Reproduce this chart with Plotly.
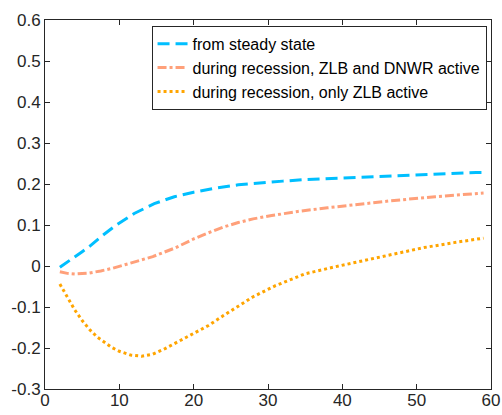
import plotly.graph_objects as go

# ---- data ----
blue_x = [2, 3, 4, 5, 6, 7.5, 9.5, 12, 14.7, 17.4, 20, 23, 26, 29, 32, 35, 37.5, 40.5, 46, 52, 58, 59]
blue_y = [-0.003, 0.009, 0.022, 0.035, 0.048, 0.071, 0.099, 0.128, 0.152, 0.169, 0.180, 0.190, 0.198,
          0.203, 0.207, 0.211, 0.213, 0.215, 0.220, 0.224, 0.228, 0.228]

salmon_x = [2, 3, 4, 5, 6, 7.5, 9, 11.5, 14.5, 17.5, 20, 22, 24, 26, 28, 30.5, 34, 38, 40.5, 46.5, 52.5, 59]
salmon_y = [-0.014, -0.018, -0.0195, -0.019, -0.017, -0.012, -0.006, 0.007, 0.023, 0.044, 0.066, 0.081,
            0.095, 0.106, 0.115, 0.123, 0.133, 0.142, 0.147, 0.159, 0.169, 0.178]

orange_x = [2, 3, 4, 5, 6, 7, 8, 9, 10, 11.5, 13, 14.5, 16, 18, 20, 22, 24, 26, 28, 31, 35, 39, 43, 47,
            51, 55, 59]
orange_y = [-0.044, -0.077, -0.107, -0.133, -0.155, -0.173, -0.187, -0.199, -0.208, -0.217, -0.220,
            -0.215, -0.203, -0.184, -0.166, -0.145, -0.121, -0.097, -0.075, -0.048, -0.019, -0.002,
            0.014, 0.029, 0.045, 0.057, 0.068]

names = ["from steady state",
         "during recession, ZLB and DNWR active",
         "during recession, only ZLB active"]

x_ticks = [0, 10, 20, 30, 40, 50, 60]
x_ticktext = ["0", "10", "20", "30", "40", "50", "60"]
y_ticks = [-0.3, -0.2, -0.1, 0, 0.1, 0.2, 0.3, 0.4, 0.5, 0.6]
y_ticktext = ["-0.3", "-0.2", "-0.1", "0", "0.1", "0.2", "0.3", "0.4", "0.5", "0.6"]

axis_color = "#262626"
font_family = "Liberation Sans, Arial, sans-serif"

fig = go.Figure()
fig.add_trace(go.Scatter(x=blue_x, y=blue_y, mode="lines", name=names[0],
                         line=dict(color="#00BFFF", width=3, dash="12px,6px")))
fig.add_trace(go.Scatter(x=salmon_x, y=salmon_y, mode="lines", name=names[1],
                         line=dict(color="#FFA07A", width=3, dash="9px,3px,3px,3px")))
fig.add_trace(go.Scatter(x=orange_x, y=orange_y, mode="lines", name=names[2],
                         line=dict(color="#FFA500", width=3, dash="3px,3px")))

axis_common = dict(showline=True, linecolor=axis_color, linewidth=1, mirror="ticks",
                   ticks="inside", ticklen=5, tickcolor=axis_color, showgrid=False,
                   zeroline=False, automargin=False,
                   tickfont=dict(family=font_family, size=17, color=axis_color))

fig.update_xaxes(range=[0, 60], tickvals=x_ticks, ticktext=x_ticktext,
                 ticklabelstandoff=-4, **axis_common)
fig.update_yaxes(range=[-0.3, 0.6], tickvals=y_ticks, ticktext=y_ticktext, **axis_common)

fig.update_layout(
    width=502, height=415, autosize=False,
    margin=dict(l=45, r=11, t=20, b=26),
    plot_bgcolor="white", paper_bgcolor="white",
    legend=dict(x=0.99, y=0.984, xanchor="right", yanchor="top",
                bgcolor="white", bordercolor=axis_color, borderwidth=1,
                font=dict(family=font_family, size=16, color="black"),
                itemwidth=30, tracegroupgap=0),
)

fig.write_html("out.html")
